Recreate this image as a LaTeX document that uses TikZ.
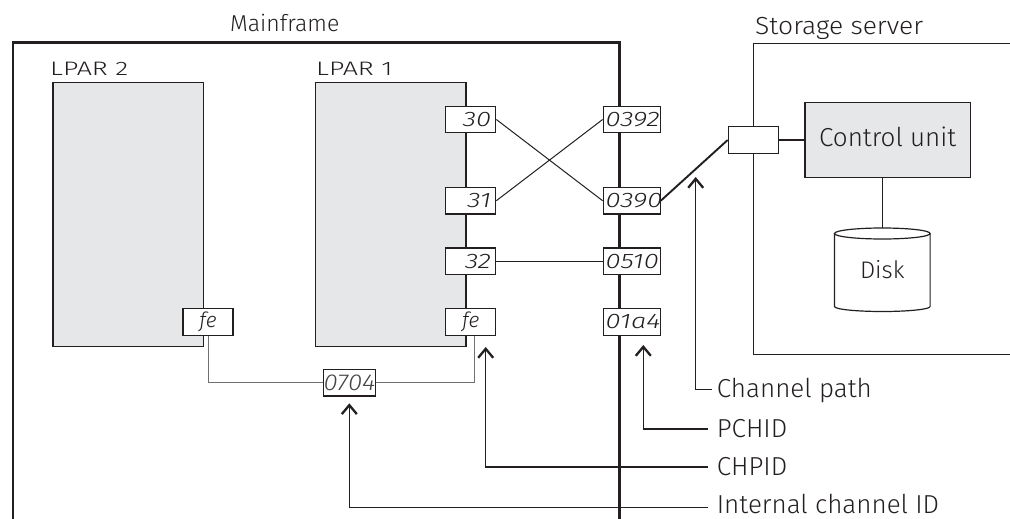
\documentclass[tikz,border=0pt]{standalone}
\usepackage{fontspec}
\usepackage{graphicx}
\usetikzlibrary{arrows.meta}
\IfFontExistsTF{Fira Sans Light Italic}
 {\setmainfont{Fira Sans Light}[ItalicFont={Fira Sans Light Italic}]}
 {\setmainfont{Fira Sans}}
\definecolor{ink}{HTML}{231F20}
\definecolor{lgray}{HTML}{E6E7E8}
\definecolor{cgray}{HTML}{707070}
\definecolor{tgray}{HTML}{444444}
\newcommand\dg[1]{\scalebox{1.3}[1]{\itshape #1}}
\begin{document}
\begin{tikzpicture}[x=1pt,y=-1pt,
  bx/.style={draw=ink, line width=1.2pt, fill=white},
  lpar/.style={draw=ink, line width=1.2pt, fill=lgray, inner sep=0pt, anchor=north west,
               minimum width=150.4pt, minimum height=263.8pt},
  chp/.style={bx, text width=40.5pt, inner xsep=4.8pt, inner ysep=0pt, minimum height=26.5pt,
              align=right, font=\fontsize{21}{22}\selectfont, text=ink},
  pch/.style={chp, text width=52pt, inner xsep=2.5pt, align=left},
  febox/.style={chp, align=center},
  ttl/.style={anchor=base west, inner sep=0pt, text=ink},
  lbl/.style={anchor=base west, inner xsep=8.7pt, inner ysep=0pt, text=ink,
              font=\fontsize{26}{28}\selectfont},
  wire/.style={draw=ink, line width=1pt},
  gwire/.style={draw=cgray, line width=1pt},
  arr/.style={draw=ink, line width=1.3pt,
              -{Straight Barb[length=9pt, width=15pt, line width=2.3pt]}}
]
\useasboundingbox (0,0) rectangle (1010,519);

% Mainframe frame
\draw[draw=ink, line width=2.7pt] (13,522) -- (13,42.5) -- (619.3,42.5) -- (619.3,522);
\node[ttl, font=\fontsize{23}{25}\selectfont] (mft) at (230,31.7) {Mainframe};

% LPARs
\node[lpar] (lpar2) at (52.3,82.3) {};
\node[lpar] (lpar1) at (314.9,82.3) {};
\node[ttl, font=\fontsize{19.5}{21}\selectfont] (l2t) at (50,76) {\scalebox{1.38}[1]{LPAR 2}};
\node[ttl, font=\fontsize{19.5}{21}\selectfont] (l1t) at (316,76) {\scalebox{1.38}[1]{LPAR 1}};

% CHPID boxes
\node[chp] (c30) at (470.7,119.5) {\dg{30}};
\node[chp] (c31) at (470.7,200.7) {\dg{31}};
\node[chp] (c32) at (470.7,261.3) {\dg{32}};
\node[febox] (fe1) at (470.7,322) {\itshape fe};
\node[febox] (fe2) at (208,322) {\itshape fe};

% PCHID boxes
\node[pch] (p0392) at (631.7,119.5) {\dg{0392}};
\node[pch] (p0390) at (631.7,200.7) {\dg{0390}};
\node[pch] (p0510) at (631.7,261.3) {\dg{0510}};
\node[pch] (p01a4) at (631.7,322) {\dg{01a4}};

\draw[wire] (c30.east) -- (p0390.west);
\draw[wire] (c31.east) -- (p0392.west);
\draw[wire] (c32.east) -- (p0510.west);

% Storage server
\draw[draw=ink, line width=1.2pt] (1014,43.3) -- (753.3,43.3) -- (753.3,354.3) -- (1014,354.3);
\node[ttl, font=\fontsize{24.7}{26}\selectfont] (sst) at (755,35) {\scalebox{1.07}[1]{Storage server}};
\node[bx, minimum width=50.4pt, minimum height=26.5pt, inner sep=0pt] (chb) at (753.5,140) {};
\draw[draw=ink, line width=1.9pt] (p0390.east) -- (chb.west);
\node[bx, fill=lgray, minimum width=165.5pt, minimum height=75.4pt, inner sep=0pt,
      font=\fontsize{26}{28}\selectfont, text=ink, text height=19pt, text depth=5.6pt] (cu) at (887.7,140) {Control unit};
\draw[wire, line width=1.2pt] (chb.east) -- (cu.west);

% Disk
\draw[draw=ink, line width=1.2pt] (834.5,233.5) -- (834.5,306.5)
   arc[start angle=180, end angle=0, x radius=47.8, y radius=5] -- (930.1,233.5);
\draw[draw=ink, line width=1.2pt] (882.3,233.5) ellipse [x radius=47.8, y radius=5.5];
\node[font=\fontsize{24}{26}\selectfont, text=ink, inner sep=0pt] (disk) at (882.3,270) {Disk};
\coordinate (dtop) at (882.3,228);
\draw[wire, line width=1.2pt] (dtop) -- (dtop |- cu.south);

% Internal channel
\node[bx, minimum width=51.2pt, minimum height=26.5pt, inner sep=0pt,
      font=\fontsize{23}{24}\selectfont, text=tgray] (ic) at (349.5,382.8) {\scalebox{1.12}[1]{\itshape 0704}};
\draw[gwire] (fe2.south) |- (ic.west);
\draw[gwire] (ic.east) -| ([xshift=3.3pt]fe1.south);

% Legend labels and arrows
\coordinate (cptip) at (695.7,177);
\coordinate (pctip) at (643.3,345);
\coordinate (chtip) at (485.7,347);
\coordinate (ictip) at (349.3,403.3);
\node[lbl, inner xsep=5pt] (cpl) at (711.7,397.3) {Channel path};
\node[lbl] (pcl) at (708,437) {PCHID};
\node[lbl] (chl) at (708,475) {CHPID};
\node[lbl] (icl) at (708,513.5) {Internal channel ID};
\draw[arr] ([yshift=8pt]cpl.base west) -| (cptip);
\draw[arr] ([yshift=8pt]pcl.base west) -| (pctip);
\draw[arr] ([yshift=8pt]chl.base west) -| (chtip);
\draw[arr] ([yshift=6pt]icl.base west) -| (ictip);
\end{tikzpicture}
\end{document}
